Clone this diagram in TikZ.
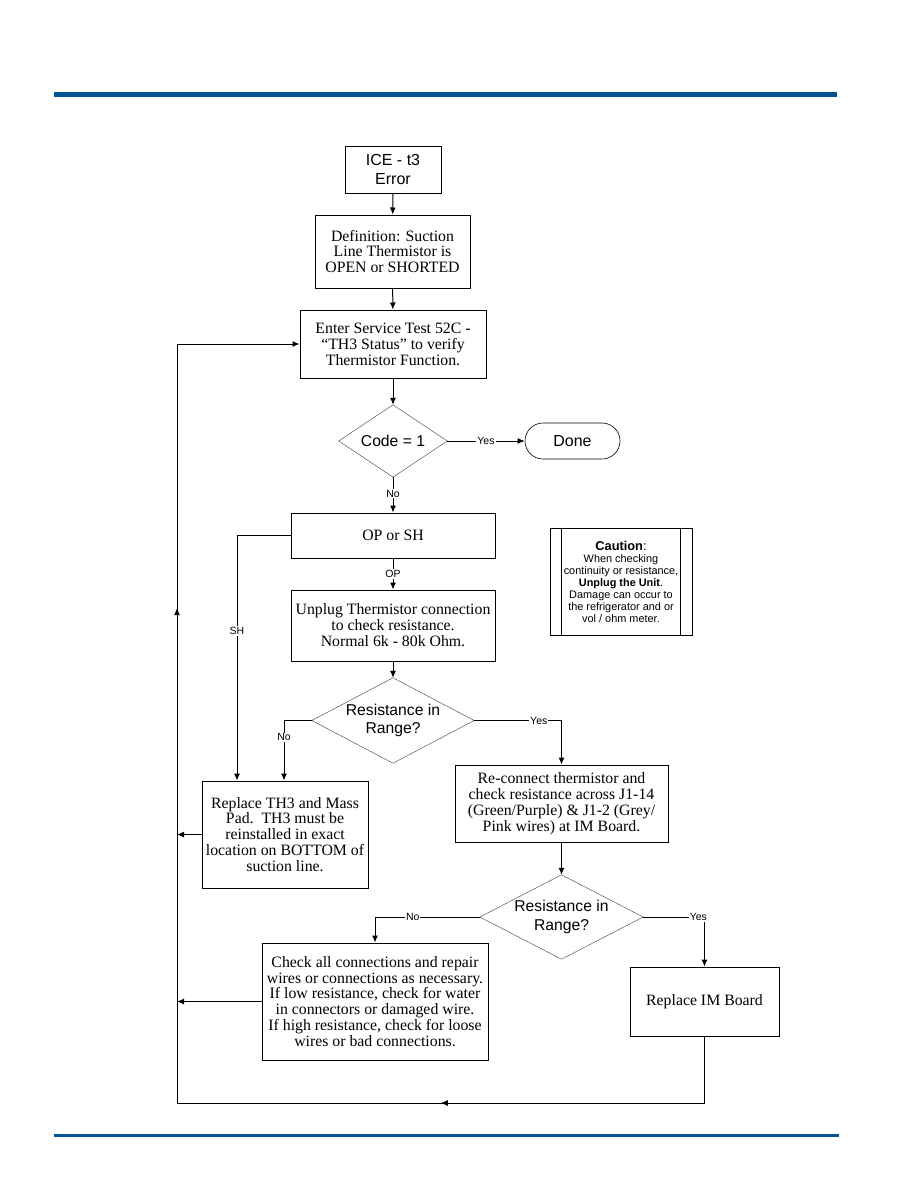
\documentclass[tikz,border=0pt]{standalone}
\usepackage{fontspec}
\setmainfont{Liberation Serif}
\setsansfont{Liberation Sans}
\usetikzlibrary{arrows.meta,decorations.markings}
\definecolor{barblue}{RGB}{0,84,148}
\begin{document}
\begin{tikzpicture}[x=1pt,y=-1pt,
  box/.style={draw, line width=1pt, align=center, inner sep=0pt, font=\fontsize{15.8}{15.9}\selectfont},
  sbox/.style={draw, line width=1pt, align=center, inner sep=0pt, font=\sffamily\fontsize{16}{18.7}\selectfont},
  dtext/.style={align=center, inner sep=0pt, font=\sffamily\fontsize{15.7}{18.5}\selectfont},
  dia/.style={draw=black!65, line width=0.5pt},
  ln/.style={line width=1pt},
  arr/.style={line width=1pt, -{Latex[length=7pt,width=6pt]}},
  lab/.style={font=\sffamily\fontsize{10.5}{12}\selectfont, fill=white, inner sep=1pt},
  midarrow/.style={postaction={decorate}, decoration={markings, mark=at position #1 with {\arrow{Latex[length=7pt,width=6pt]}}}}
]
\useasboundingbox (0,0) rectangle (918,1188);
% header / footer bars
\fill[barblue] (53.5,92.5) rectangle (837,97.5);
\fill[barblue] (53.5,1133.5) rectangle (839,1136.5);

% nodes
\node[sbox, minimum width=96pt, minimum height=47pt] (ice) at (393,169.5) {ICE - t3\\Error};
\node[box, minimum width=155pt, minimum height=73pt] (def) at (392.5,251.5) {Definition: Suction\\Line Thermistor is\\OPEN or SHORTED};
\node[box, minimum width=186pt, minimum height=68pt] (enter) at (393,344) {Enter Service Test 52C -\\``TH3 Status'' to verify\\Thermistor Function.};
\node[dtext, minimum width=108pt, minimum height=72pt] (code) at (393,441) {Code = 1};
\node[draw, line width=0.6pt, rounded corners=18pt, minimum width=95pt, minimum height=36pt, inner sep=0pt, font=\sffamily\fontsize{16}{18}\selectfont] (done) at (572.5,441) {Done};
\node[box, minimum width=204pt, minimum height=45pt] (opsh) at (393,535.5) {OP or SH};
\node[box, minimum width=204pt, minimum height=71pt] (unplug) at (393,625.5) {Unplug Thermistor connection\\to check resistance.\\Normal 6k - 80k Ohm.};
\node[dtext, minimum width=162pt, minimum height=85pt] (res1) at (393,720.5) {Resistance in\\Range?};
\node[box, minimum width=166pt, minimum height=107pt] (th3) at (285,834.5) {Replace TH3 and Mass\\Pad.\ \ TH3 must be\\reinstalled in exact\\location on BOTTOM of\\suction line.};
\node[box, minimum width=213pt, minimum height=77pt] (recon) at (561.5,803.5) {Re-connect thermistor and\\check resistance across J1-14\\(Green/Purple) \& J1-2 (Grey/\\Pink wires) at IM Board.};
\node[dtext, minimum width=163pt, minimum height=84pt] (res2) at (561.5,917) {Resistance in\\Range?};
\node[box, minimum width=149pt, minimum height=69pt] (im) at (704.5,1001.5) {Replace IM Board};
\node[box, minimum width=226pt, minimum height=117pt] (check) at (375,1001.5) {Check all connections and repair\\wires or connections as necessary.\\If low resistance, check for water\\in connectors or damaged wire.\\If high resistance, check for loose\\wires or bad connections.};
\node[draw, line width=0.8pt, minimum width=142pt, minimum height=107pt, inner sep=0pt, align=center, font=\sffamily\fontsize{10.9}{12}\selectfont] (caution) at (621,581.5)
  {{\fontsize{12.8}{14}\selectfont\textbf{Caution}:}\\When checking\\continuity or resistance,\\\textbf{Unplug the Unit}.\\Damage can occur to\\the refrigerator and or\\vol / ohm meter.};
\draw[line width=0.8pt] ([xshift=12pt]caution.north west) -- ([xshift=12pt]caution.south west);
\draw[line width=0.8pt] ([xshift=-12pt]caution.north east) -- ([xshift=-12pt]caution.south east);

% diamonds
\draw[dia] (code.north) -- (code.east) -- (code.south) -- (code.west) -- cycle;
\draw[dia] (res1.north) -- (res1.east) -- (res1.south) -- (res1.west) -- cycle;
\draw[dia] (res2.north) -- (res2.east) -- (res2.south) -- (res2.west) -- cycle;

% loop coordinates
\coordinate (bl) at (177,1103);
\coordinate (br) at (704.5,1103);
\coordinate (tl) at (177,344);

% connectors
\draw[arr] (ice) -- (def);
\draw[arr] (def) -- (enter);
\draw[arr] (enter) -- (code.north);
\draw[arr] (code.east) -- node[lab]{Yes} (done.west);
\draw[arr] (code.south) -- node[lab, pos=0.47]{No} (opsh.north);
\draw[arr] (opsh.south) -- node[lab]{OP} (unplug.north);
\draw[arr] (unplug.south) -- (res1.north);
\draw[arr] (opsh.west) -| node[lab, pos=0.695]{SH} ([xshift=-48pt]th3.north);
\draw[arr] (res1.west) -| node[lab, pos=0.64]{No} ([xshift=-1pt]th3.north);
\draw[arr] (res1.east) -| node[lab, pos=0.37]{Yes} (recon.north);
\draw[arr] (recon.south) -- (res2.north);
\draw[arr] (res2.west) -| node[lab, pos=0.32]{No} (check.north);
\draw[arr] (res2.east) -| node[lab, pos=0.45]{Yes} (im.north);
\draw[arr] (th3.west) -- (th3.west -| bl);
\draw[arr] (check.west) -- (check.west -| bl);
\draw[ln] (im.south) -- (br);
\draw[ln, midarrow=0.5] (br) -- (bl);
\draw[ln, midarrow=0.652] (bl) -- (tl);
\draw[arr] (tl) -- (enter.west);
\end{tikzpicture}
\end{document}
